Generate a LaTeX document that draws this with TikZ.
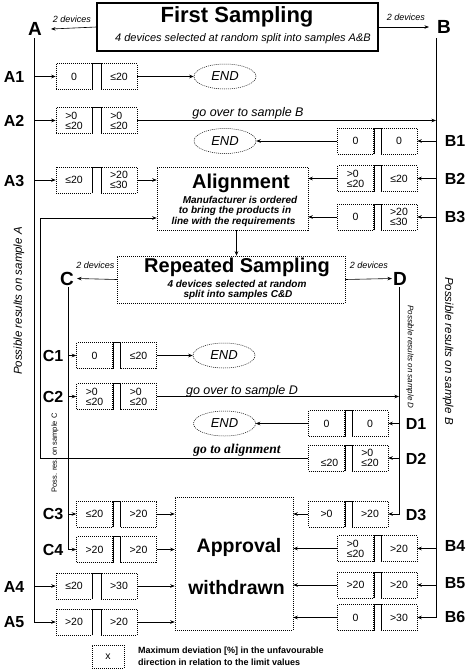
\documentclass[tikz,border=0pt]{standalone}
\usepackage{fontspec}
\setmainfont{Liberation Sans}
\newfontfamily\serifface{Liberation Serif}
\usetikzlibrary{arrows.meta,shapes.geometric}
\newcommand{\fsz}[1]{\fontsize{#1}{#1}\selectfont}
\newcommand{\pairrow}[6]{%
  \node[valbox] (#1l) at (#2,#4) {#5};
  \node[valbox] (#1r) at (#3,#4) {#6};
  \draw[line width=0.4pt] (#1l.south east) -- (#1l.north east) -- (#1r.north west) -- (#1r.south west);
}
\begin{document}
\begin{tikzpicture}[x=1pt,y=-1pt,
  >={Stealth[length=4.5pt,width=3.5pt]},
  conn/.style={line width=0.6pt,->},
  valbox/.style={draw,line width=0.5pt,dash pattern=on 1pt off 1pt,minimum width=36pt,minimum height=26pt,inner sep=1pt,align=left,font=\fontsize{10.5}{10}\selectfont},
  endnode/.style={ellipse,draw,line width=0.5pt,dash pattern=on 1pt off 1pt,minimum width=62pt,minimum height=25pt,inner sep=0pt,font=\fsz{13}\itshape},
  bigbox/.style={draw,line width=0.5pt,dash pattern=on 1pt off 1pt,inner sep=0pt},
  rowlab/.style={font=\fsz{16}\bfseries,inner sep=0pt},
  letlab/.style={font=\fsz{19}\bfseries,inner sep=0pt},
  devs/.style={font=\fsz{9}\itshape,inner sep=0pt,anchor=base},
  headt/.style={font=\fsz{20}\bfseries,inner sep=0pt,anchor=base},
  subt/.style={font=\fsz{10}\bfseries\itshape,inner sep=0pt,anchor=base},
  linet/.style={font=\fsz{12.5}\itshape,inner sep=0pt,anchor=base},
  legt/.style={font=\fsz{9}\bfseries,inner sep=0pt,anchor=base west}
]
\useasboundingbox (0,0) rectangle (469,670);

% ---------- First sampling ----------
\node[draw,line width=1.2pt,minimum width=281pt,minimum height=48pt,inner sep=0pt] (fs) at (237.5,27) {};
\node[font=\fsz{22}\bfseries,inner sep=0pt,anchor=base] (fst) at (237,22) {First Sampling};
\node[font=\fsz{11}\itshape,inner sep=0pt,anchor=base] (fss) at (243,41) {4 devices selected at random split into samples A\&B};
\node[letlab] (Alab) at (35,29) {A};
\node[letlab] (Blab) at (444,27) {B};
\draw[conn] (fs.west) -- ([xshift=9pt]Alab.east);
\draw[conn] (fs.east) -- ([xshift=-8pt]Blab.west);
\node[devs] (dA) at (72,22) {2 devices};
\node[devs] (dB) at (406,20) {2 devices};
\coordinate (Atop) at (34,38);
\coordinate (Btop) at (436,38);

% ---------- rows A / B upper ----------
\pairrow{A1}{74}{119}{76.5}{0}{≤20}
\pairrow{A2}{74}{119}{120.5}{>0\\≤20}{>0\\≤20}
\pairrow{A3}{74}{119}{180}{≤20}{>20\\≤30}
\pairrow{B1}{355.5}{399}{141}{0}{0}
\pairrow{B2}{355.5}{399}{178.5}{>0\\≤20}{≤20}
\pairrow{B3}{355.5}{399}{217}{0}{>20\\≤30}

\node[rowlab] (lA1) at (14,76.5) {A1};
\node[rowlab] (lA2) at (14,120.5) {A2};
\node[rowlab] (lA3) at (14,181) {A3};
\node[rowlab] (lB1) at (455,141) {B1};
\node[rowlab] (lB2) at (455,178.5) {B2};
\node[rowlab] (lB3) at (455,217) {B3};

\node[endnode] (e1) at (225,76.5) {END};
\node[endnode] (e2) at (225,141) {END};

% alignment
\node[bigbox,minimum width=151pt,minimum height=63pt] (al) at (232.5,198.5) {};
\node[headt] (alt) at (241,188) {Alignment};
\node[subt] (al1) at (240,203) {Manufacturer is ordered};
\node[subt] (al2) at (235,213.5) {to bring the products in};
\node[subt] (al3) at (233.5,224) {line with the requirements};

\draw[conn] (A1l.west -| Atop) -- (A1l.west);
\draw[conn] (A2l.west -| Atop) -- (A2l.west);
\draw[conn] (A3l.west -| Atop) -- (A3l.west);
\draw[conn] (A1r.east) -- (e1.west);
\draw[conn] (A2r.east) -- (A2r.east -| Btop);
\node[linet] (gB) at (248,116.5) {go over to sample B};
\draw[conn] (A3r.east) -- (A3r.east -| al.west);

\draw[conn] (B1r.east -| Btop) -- (B1r.east);
\draw[conn] (B2r.east -| Btop) -- (B2r.east);
\draw[conn] (B3r.east -| Btop) -- (B3r.east);
\draw[conn] (B1l.west) -- (e2.east);
\draw[conn] (B2l.west) -- (B2l.west -| al.east);
\draw[conn] (B3l.west) -- (B3l.west -| al.east);

% ---------- repeated sampling ----------
\node[bigbox,minimum width=228pt,minimum height=47pt] (rs) at (231,279.5) {};
\node[headt] (rst) at (237,272) {Repeated Sampling};
\node[subt] (rs1) at (237,287) {4 devices selected at random};
\node[subt] (rs2) at (238,297.5) {split into samples C\&D};
\draw[conn] ([xshift=4pt]al.south) -- ([xshift=4pt]al.south |- rs.north);
\node[letlab] (Clab) at (67,278.5) {C};
\node[letlab] (Dlab) at (400,278.5) {D};
\draw[conn] (rs.west) -- ([xshift=3pt]Clab.east);
\draw[conn] (rs.east) -- ([xshift=-1pt]Dlab.west);
\node[devs] (dC) at (95.5,268) {2 devices};
\node[devs] (dD) at (369,268) {2 devices};
\coordinate (Ctop) at (68,287);
\coordinate (Dtop) at (399,287);

% ---------- rows C / D ----------
\pairrow{C1}{94.5}{138.5}{355.5}{0}{≤20}
\pairrow{C2}{94.5}{138.5}{396.5}{>0\\≤20}{>0\\≤20}
\pairrow{C3}{94.5}{138.5}{514}{≤20}{>20}
\pairrow{C4}{94.5}{138.5}{549.5}{>20}{>20}
\pairrow{D1}{326.5}{370}{423.5}{0}{0}
\pairrow{D2}{326.5}{370}{458}{\phantom{>0}\\\hspace*{6pt}≤20}{>0\\≤20}
\pairrow{D3}{326.5}{370}{514}{>0}{>20}

\node[rowlab] (lC1) at (53,355.5) {C1};
\node[rowlab] (lC2) at (53,397) {C2};
\node[rowlab] (lC3) at (53,514) {C3};
\node[rowlab] (lC4) at (53,550) {C4};
\node[rowlab] (lD1) at (416,423.5) {D1};
\node[rowlab] (lD2) at (416,459) {D2};
\node[rowlab] (lD3) at (416,515) {D3};

\node[endnode] (e3) at (224,355.5) {END};
\node[endnode] (e4) at (224.5,423.5) {END};

% approval withdrawn
\node[bigbox,minimum width=118pt,minimum height=133pt] (ap) at (234,563.5) {};
\node[font=\fsz{19.5}\bfseries,inner sep=0pt,anchor=base] (apt1) at (239,552) {Approval};
\node[font=\fsz{19.5}\bfseries,inner sep=0pt,anchor=base] (apt2) at (236.5,594) {withdrawn};

\draw[conn] (C1l.west -| Ctop) -- (C1l.west);
\draw[conn] (C2l.west -| Ctop) -- (C2l.west);
\draw[conn] (C3l.west -| Ctop) -- (C3l.west);
\draw[conn] (Ctop) |- (C4l.west);
\draw[conn] (C1r.east) -- (e3.west);
\draw[conn] (C2r.east) -- (C2r.east -| Dtop);
\node[linet] (gD) at (242,394.5) {go over to sample D};
\draw[conn] (C3r.east) -- (C3r.east -| ap.west);
\draw[conn] (C4r.east) -- (C4r.east -| ap.west);

\draw[conn] (D1r.east -| Dtop) -- (D1r.east);
\draw[conn] (D2r.east -| Dtop) -- (D2r.east);
\draw[conn] (Dtop) |- (D3r.east);
\draw[conn] (D1l.west) -- (e4.east);
\draw[conn] (D3l.west) -- (D3l.west -| ap.east);

% go to alignment
\coordinate (gcorner) at (40,218);
\draw[line width=0.8pt,->] (D2l.west) -| (gcorner) -- (gcorner -| al.west);
\node[font=\fsz{13.5}\serifface\bfseries\itshape,inner sep=0pt,anchor=base] (gA) at (237,453) {go to alignment};

% ---------- lower A / B rows ----------
\pairrow{A4}{74}{119}{586}{≤20}{>30}
\pairrow{A5}{74}{119}{622}{>20}{>20}
\pairrow{B4}{355.5}{399}{548.5}{>0\\≤20}{>20}
\pairrow{B5}{355.5}{399}{585}{>20}{>20}
\pairrow{B6}{355.5}{399}{617.5}{0}{>30}

\node[rowlab] (lA4) at (14,587) {A4};
\node[rowlab] (lA5) at (14,622) {A5};
\node[rowlab] (lB4) at (455,546) {B4};
\node[rowlab] (lB5) at (455,583) {B5};
\node[rowlab] (lB6) at (455,617) {B6};

\draw[conn] (A4l.west -| Atop) -- (A4l.west);
\draw[conn] (Atop) |- (A5l.west);
\draw[conn] (A4r.east) -- (A4r.east -| ap.west);
\draw[conn] (A5r.east) -- (A5r.east -| ap.west);

\draw[conn] (B4r.east -| Btop) -- (B4r.east);
\draw[conn] (B5r.east -| Btop) -- (B5r.east);
\draw[conn] (Btop) |- (B6r.east);
\draw[conn] (B4l.west) -- (B4l.west -| ap.east);
\draw[conn] (B5l.west) -- (B5l.west -| ap.east);
\draw[conn] (B6l.west) -- (B6l.west -| ap.east);

% ---------- side texts ----------
\node[rotate=90,font=\fsz{11.5}\itshape,inner sep=0pt] (pA) at (19,301) {Possible results on sample A};
\node[rotate=-90,font=\fsz{11.5}\itshape,inner sep=0pt] (pB) at (448,351) {Possible results on sample B};
\node[rotate=-90,font=\fsz{8}\itshape,inner sep=0pt] (pD) at (410,357) {Possible results on sample D};
\node[rotate=90,font=\fsz{7.5},inner sep=0pt] (pC) at (55,453) {Poss. res. on sample C};

% ---------- legend ----------
\node[valbox,minimum width=32pt,minimum height=23pt,align=center] (lg) at (108,656.5) {x};
\node[legt] (lg1) at (138,653.5) {Maximum deviation [\%] in the unfavourable};
\node[legt] (lg2) at (138,665.5) {direction in relation to the limit values};
\end{tikzpicture}
\end{document}
